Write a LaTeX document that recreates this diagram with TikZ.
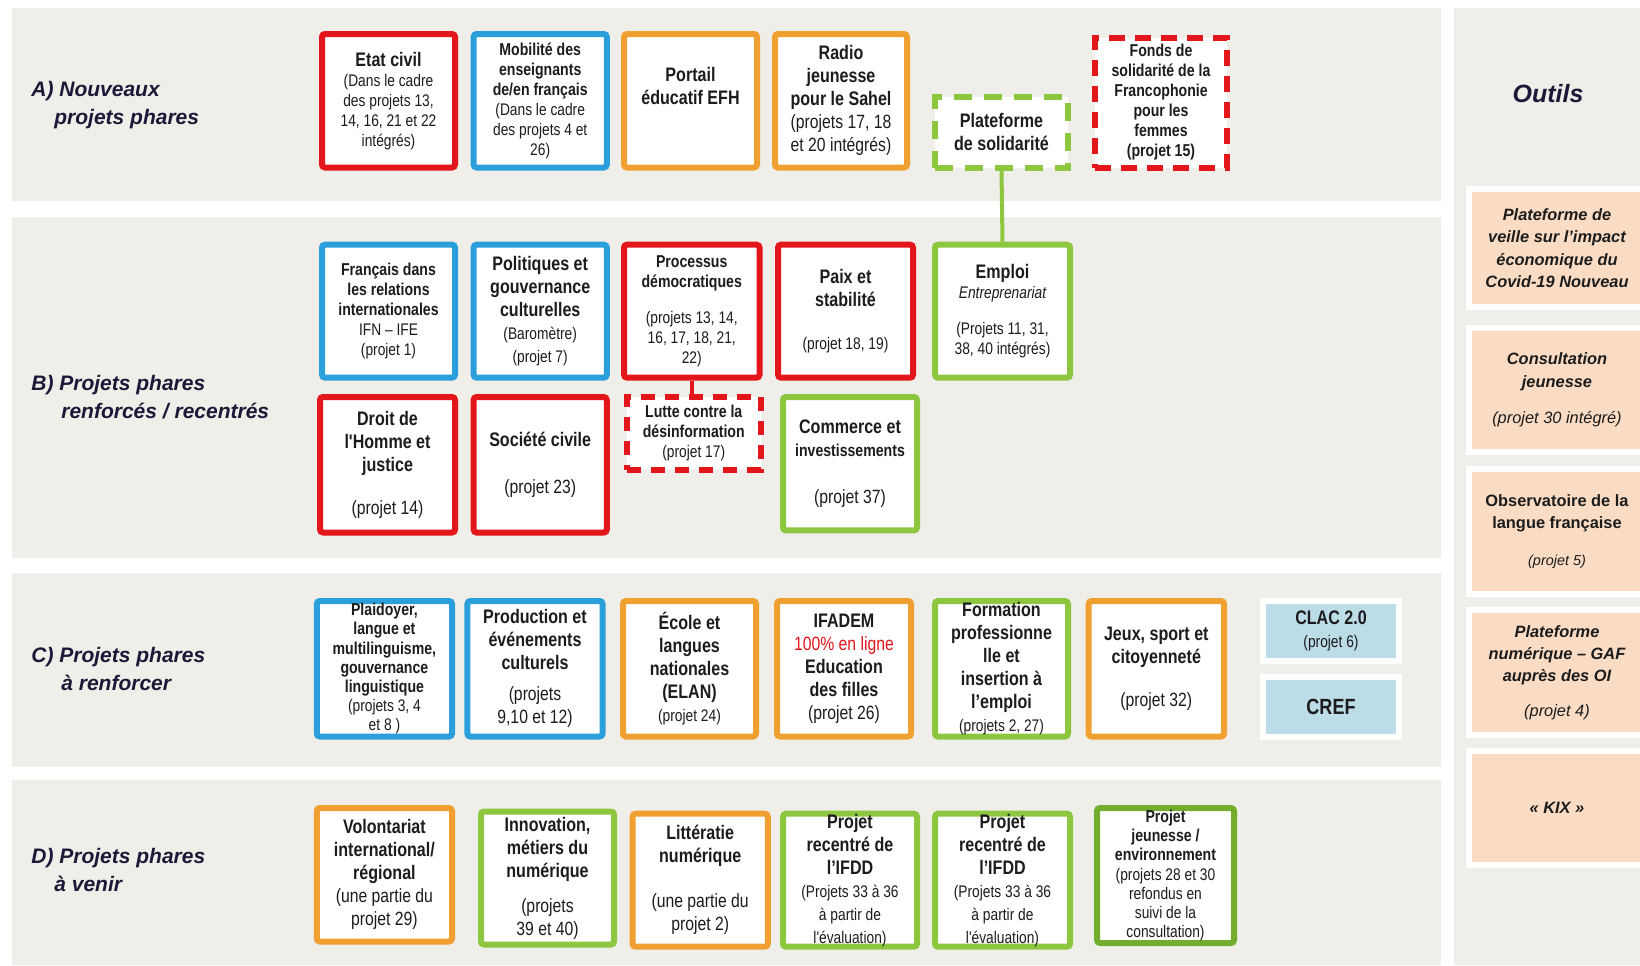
\documentclass[tikz,border=0pt]{standalone}
\usepackage{fontspec}
\setmainfont{Liberation Sans}
\newfontfamily\nar{Liberation Sans}[FakeStretch=0.82]
\definecolor{cred}{HTML}{E3161B}
\definecolor{cblue}{HTML}{2A9FDC}
\definecolor{corange}{HTML}{F0A030}
\definecolor{cgreen}{HTML}{8DC63F}
\definecolor{cdgreen}{HTML}{72AD2E}
\definecolor{bandbg}{HTML}{F0EEE8}
\definecolor{peach}{HTML}{FADCC4}
\definecolor{lblue}{HTML}{BCDCE8}
\definecolor{txt}{HTML}{1C1C1C}
\definecolor{lab}{HTML}{1E1838}
\newcommand\fTit{\fontsize{9.8}{11.5}\selectfont\bfseries\upshape}
\newcommand\fSub{\fontsize{8.6}{10}\selectfont\bfseries\upshape}
\newcommand\fSubT{\fontsize{8.6}{9.6}\selectfont\bfseries\upshape}
\newcommand\fReg{\fontsize{8.4}{10}\selectfont\mdseries\upshape}
\newcommand\fRegT{\fontsize{8.4}{9.6}\selectfont\mdseries\upshape}
\newcommand\fRegIt{\fontsize{8.4}{10}\selectfont\mdseries\itshape}
\newcommand\fBig{\fontsize{9.6}{11.5}\selectfont\mdseries\upshape}
\newcommand\fTool{\fontsize{8.2}{11.2}\selectfont\bfseries\itshape}
\newcommand\fToolB{\fontsize{8.2}{11.2}\selectfont\bfseries\upshape}
\newcommand\fToolR{\fontsize{8.2}{11.2}\selectfont\mdseries\itshape}
\newcommand\fToolS{\fontsize{7.2}{10}\selectfont\mdseries\itshape}
\pgfdeclarelayer{bg}
\pgfdeclarelayer{conn}
\pgfsetlayers{bg,conn,main}
\begin{document}
\begin{tikzpicture}[x=0.5pt,y=-0.5pt,
  pbox/.style={draw, line width=3pt, rounded corners=1.5pt, fill=white, inner sep=0pt, align=center, text=txt},
  dbox/.style={pbox, rounded corners=0pt, dash pattern=on 8pt off 5pt},
  sz/.style 2 args={minimum width=#1pt, minimum height=#2pt},
  tool/.style={draw=white, line width=3pt, fill=peach, inner sep=0pt, align=center, text=txt, minimum width=88pt, font=\fTool},
  cbox/.style={draw=white, line width=3pt, fill=lblue, inner sep=0pt, align=center, text=txt, minimum width=68pt, minimum height=30pt},
  lbl/.style={anchor=west, align=left, inner sep=0pt, font=\fontsize{10.5}{14}\selectfont\bfseries\itshape, text=lab},
  conn/.style={line width=2pt}]
\useasboundingbox (0,0) rectangle (1640,965);
\clip (0,0) rectangle (1640,965);
\begin{pgfonlayer}{bg}
\fill[white] (0,0) rectangle (1640,965);
\fill[bandbg] (11.5,8.4) rectangle (1441,200.8);
\fill[bandbg] (11.5,216.5) rectangle (1441,557.5);
\fill[bandbg] (11.5,573) rectangle (1441,766.6);
\fill[bandbg] (11.5,780) rectangle (1441,965);
\fill[bandbg] (1454,8.4) rectangle (1640,965);
\end{pgfonlayer}

% row labels
\node[lbl] (labA) at (31,105) {A) Nouveaux\\\hspace*{11.5pt}projets phares};
\node[lbl] (labB) at (31,397) {B) Projets phares\\\hspace*{15pt}renforcés / recentrés};
\node[lbl] (labC) at (31,669) {C) Projets phares\\\hspace*{15pt}à renforcer};
\node[lbl] (labD) at (31,870) {D) Projets phares\\\hspace*{11.5pt}à venir};
\node[inner sep=0pt, font=\fontsize{12.5}{15}\selectfont\bfseries\itshape, text=lab] (outils) at (1548,94) {Outils};

% Row A
\node[pbox, draw=cred, sz={66.5}{66.75}, font=\nar\fReg] (etat) at (388.5,100.75)
 {\fTit Etat civil\\(Dans le cadre\\des projets 13,\\14, 16, 21 et 22\\intégrés)};
\node[pbox, draw=cblue, sz={66.6}{66.75}, font=\nar\fSub] (mob) at (540.2,100.75)
 {Mobilité des\\enseignants\\de/en français\\\fReg (Dans le cadre\\\fReg des projets 4 et\\\fReg 26)};
\node[pbox, draw=corange, sz={66.5}{66.75}, font=\nar\fTit] (portail) at (690.5,100.75)
 {Portail\\éducatif EFH\\\strut};
\node[pbox, draw=corange, sz={66}{66.75}, font=\nar\fTit] (radio) at (841,100.75)
 {Radio\\jeunesse\\pour le Sahel\\\fBig (projets 17, 18\\\fBig et 20 intégrés)};
\node[dbox, draw=cgreen, sz={66.5}{35.25}, dash pattern=on 9pt off 6pt, font=\nar\fTit] (platsol) at (1001.5,132.25)
 {Plateforme\\de solidarité};
\node[dbox, draw=cred, sz={66}{65}, font=\nar\fSub] (fonds) at (1161,102.5)
 {Fonds de\\solidarité de la\\Francophonie\\pour les\\femmes\\(projet 15)};

% Row B top
\node[pbox, draw=cblue, sz={66.5}{66.5}, font=\nar\fSub] (fr) at (388.5,311.15)
 {Français dans\\les relations\\internationales\\\fReg IFN – IFE\\\fReg (projet 1)};
\node[pbox, draw=cblue, sz={66.6}{66.5}, font=\nar\fTit] (pol) at (540.2,311.15)
 {Politiques et\\gouvernance\\culturelles\\\fReg (Baromètre)\\\fReg (projet 7)};
\node[pbox, draw=cred, sz={67.75}{66.5}, font=\nar\fSub] (proc) at (691.75,311.15)
 {Processus\\démocratiques\\[8pt]\fReg (projets 13, 14,\\\fReg 16, 17, 18, 21,\\\fReg 22)};
\node[pbox, draw=cred, sz={67.5}{66.5}, font=\nar\fTit] (paix) at (845.5,311.15)
 {Paix et\\stabilité\\[10pt]\fReg (projet 18, 19)};
\node[pbox, draw=cgreen, sz={67.5}{66.5}, font=\nar\fReg] (emploi) at (1002.5,311.15)
 {\fTit Emploi\\\fRegIt Entreprenariat\\[8pt](Projets 11, 31,\\38, 40 intégrés)};

% Row B bottom
\node[pbox, draw=cred, sz={67.5}{67.75}, font=\nar\fTit] (droit) at (387.5,464.75)
 {Droit de\\l'Homme et\\justice\\[10pt]\fBig (projet 14)};
\node[pbox, draw=cred, sz={66.6}{67.75}, font=\nar\fTit] (soc) at (540.2,464.75)
 {Société civile\\[12pt]\fBig (projet 23)};
\node[dbox, draw=cred, sz={66.75}{36.35}, dash pattern=on 7pt off 5pt, font=\nar\fSub] (lutte) at (693.75,433.35)
 {Lutte contre la\\désinformation\\\fReg (projet 17)};
\node[pbox, draw=cgreen, sz={67}{66.7}, font=\nar\fTit] (comm) at (850,463.7)
 {Commerce et\\\fSub investissements\\[12pt]\fBig (projet 37)};

% Row C
\node[pbox, draw=cblue, sz={67.6}{67.75}, font=\nar\fSubT] (plai) at (384.4,668.75)
 {Plaidoyer,\\langue et\\multilinguisme,\\gouvernance\\linguistique\\\fRegT (projets 3, 4\\\fRegT et 8 )};
\node[pbox, draw=cblue, sz={67.6}{67.75}, font=\nar\fTit] (prod) at (535,668.75)
 {Production et\\événements\\culturels\\[4pt]\fBig (projets\\\fBig 9,10 et 12)};
\node[pbox, draw=corange, sz={66.5}{67.75}, font=\nar\fTit] (ecole) at (689.5,668.75)
 {École et\\langues\\nationales\\(ELAN)\\\fReg (projet 24)};
\node[pbox, draw=corange, sz={67}{67.75}, font=\nar\fTit] (ifadem) at (844,668.75)
 {IFADEM\\\textcolor{cred}{\fBig 100\% en ligne}\\Education\\des filles\\\fBig (projet 26)};
\node[pbox, draw=cgreen, sz={66.5}{67.75}, font=\nar\fTit] (form) at (1001.5,668.75)
 {Formation\\professionne\\lle et\\insertion à\\l’emploi\\\fReg (projets 2, 27)};
\node[pbox, draw=corange, sz={67.7}{67.75}, font=\nar\fTit] (jeux) at (1156.3,668.75)
 {Jeux, sport et\\citoyenneté\\[10pt]\fBig (projet 32)};
\node[cbox, font=\nar\fTit] (clac) at (1331,631) {CLAC 2.0\\\fReg (projet 6)};
\node[cbox, font=\nar\fontsize{11}{13}\selectfont\bfseries] (cref) at (1331,706.5) {CREF};

% Row D
\node[pbox, draw=corange, sz={67.6}{66.75}, font=\nar\fTit] (vol) at (384.4,874.75)
 {Volontariat\\international/\\régional\\\fBig (une partie du\\\fBig projet 29)};
\node[pbox, draw=cgreen, sz={66.5}{66.5}, font=\nar\fTit] (innov) at (547.5,878)
 {Innovation,\\métiers du\\numérique\\[6pt]\fBig (projets\\\fBig 39 et 40)};
\node[pbox, draw=corange, sz={67.6}{66.5}, font=\nar\fTit] (litt) at (700.2,880.2)
 {Littératie\\numérique\\[11pt]\fBig (une partie du\\\fBig projet 2)};
\node[pbox, draw=cgreen, sz={67}{66.5}, font=\nar\fTit] (reca) at (850,880.2)
 {Projet\\recentré de\\l’IFDD\\\fReg (Projets 33 à 36\\\fReg à partir de\\\fReg l'évaluation)};
\node[pbox, draw=cgreen, sz={67.5}{66.5}, font=\nar\fTit] (recb) at (1002.5,880.2)
 {Projet\\recentré de\\l’IFDD\\\fReg (Projets 33 à 36\\\fReg à partir de\\\fReg l'évaluation)};
\node[pbox, draw=cdgreen, sz={68.5}{67.5}, font=\nar\fSubT] (jeun) at (1165.5,875.5)
 {Projet\\jeunesse /\\environnement\\\fRegT (projets 28 et 30\\\fRegT refondus en\\\fRegT suivi de la\\\fRegT consultation)};

% Outils
\node[tool, minimum height=59pt] (t1) at (1557,248)
 {Plateforme de\\veille sur l'impact\\économique du\\Covid-19 Nouveau};
\node[tool, minimum height=62pt] (t2) at (1557,390)
 {Consultation\\jeunesse\\[7pt]\fToolR (projet 30 intégré)};
\node[tool, minimum height=62.5pt, font=\fToolB] (t3) at (1557,531.5)
 {Observatoire de la\\langue française\\[7pt]\fToolS (projet 5)};
\node[tool, minimum height=62.5pt] (t4) at (1557,672.5)
 {Plateforme\\numérique – GAF\\auprès des OI\\[6pt]\fToolR (projet 4)};
\node[tool, minimum height=57pt] (t5) at (1557,808)
 {« KIX »};

% connectors
\begin{pgfonlayer}{conn}
\draw[conn, draw=cgreen] (platsol.south) -- (emploi.north);
\draw[conn, draw=cred] (proc.south) -- (proc.south |- lutte.north);
\end{pgfonlayer}
\end{tikzpicture}
\end{document}
